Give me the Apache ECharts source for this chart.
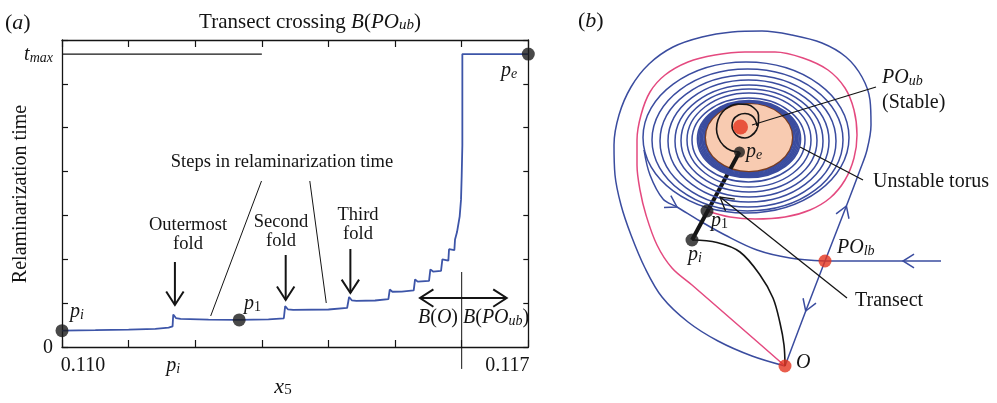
<!DOCTYPE html>
<html><head><meta charset="utf-8">
<script src="https://cdn.jsdelivr.net/npm/echarts@6/dist/echarts.min.js"></script>
<style>html,body{margin:0;padding:0;background:#fff}#c{width:997px;height:403px}</style>
</head><body><div id="c"></div><script>
// ================= Panel (a) data =================
const xTicks = [0.110, 0.111, 0.112, 0.113, 0.114, 0.115, 0.116, 0.117];
const yTicks = [0, 1, 2, 3, 4, 5, 6, 7];
const xLabelValues = [0.110, 0.11167, 0.117];
const xLabelTexts = ['0.110', 'p_i', '0.117'];
const tMax = 6.68;
const yLabelValues = [0, tMax];
const yLabelTexts = ['0', 't_max'];

const x5 = [
  0.11000, 0.11050, 0.11100, 0.11140, 0.11160, 0.11166,
  0.11167, 0.11171, 0.11178, 0.11220, 0.11265, 0.11310, 0.11333,
  0.11335, 0.11339, 0.11347, 0.11400, 0.11428,
  0.11431, 0.11435, 0.11442, 0.11470, 0.11490,
  0.11492, 0.11496, 0.11510, 0.11528,
  0.11530, 0.11534, 0.11551,
  0.11553, 0.11557, 0.11569,
  0.11571, 0.11574, 0.11580,
  0.11581, 0.11584, 0.11589,
  0.11590, 0.11593, 0.11597, 0.11599, 0.11600, 0.11601, 0.11601, 0.11700
];
const relamTime = [
  0.373, 0.383, 0.397, 0.415, 0.440, 0.470,
  0.740, 0.660, 0.640, 0.625, 0.618, 0.628, 0.655,
  0.930, 0.860, 0.845, 0.855, 0.890,
  1.140, 1.065, 1.050, 1.060, 1.090,
  1.310, 1.260, 1.262, 1.290,
  1.540, 1.490, 1.510,
  1.770, 1.720, 1.735,
  2.000, 1.955, 1.970,
  2.230, 2.190, 2.210,
  2.450, 2.620, 2.980, 3.360, 3.900, 4.600, 6.680, 6.680
];
const markedX = [0.11000, 0.11266, 0.11700];
const markedT = [0.373, 0.618, 6.68];

const tMaxLineX = [0.110, 0.113];
const foldArrowX = [0.111695, 0.113358, 0.114329];
const foldArrowFrom = [1.938, 2.098, 2.234];
const foldArrowTo = [0.958, 1.072, 1.231];
const basinArrowT = 1.117;
const basinArrowEnds = [0.115374, 0.116675];
const basinBoundaryX = 0.116;
const basinBoundaryT = [1.710, -0.50];
const stepLeaderX = [[0.112995, 0.112232], [0.113720, 0.113967]];
const stepLeaderT = [[3.785, 0.707], [3.785, 1.003]];

// ================= Panel (b) schematic data (diagram units) =================
const torus = [749, 137.5, 44, 34.5];
const bandRings = [[749,137.6,45,35.4],[749,137.9,46.3,36],[749,138.2,47.6,36.6],[749,138.5,48.9,37.2],[749,138.8,50.2,37.8],[749,139,51.5,38.5]];
const rings = [[748.5,140,56.5,42],[749,140,62,47],[749,140.5,68,51.5],[749,141,74,56],[748.5,141,80.5,61],[748,141,88,66],[747.5,140,95.5,71],[746,137.5,103,75.5]];
const outerLoop = [[785,366],[805,313],[825,261],[846,207],[860,170],[867,150],[871,125],[870,100],[862,77],[846,57],[822,43],[792,35],[762,31],[732,32],[702,37],[673,47],[649,64],[631,87],[619,115],[614,145],[615,175],[621,205],[631,235],[645,268],[662,297],[688,322],[718,341],[752,356],[785,366]];
const pinkOrbit = [[707,211],[730,217],[755,219],[785,217],[810,210],[830,198],[845,180],[854,158],[857,135],[854,110],[845,88],[828,70],[803,58],[775,52],[745,52],[715,55],[688,62],[665,75],[650,92],[641,115],[637,140],[637,165],[640,190],[646,215],[657,245],[672,268],[692,285],[738,325],[785,366]];
const inflowLeft = [[644,150],[650,175],[663,199],[677,207],[700,221],[725,235],[757,250],[790,258],[825,261]];
const inflowRight = [[941,261],[825,261]];
const piToO = [[692,240],[717,242.5],[740,252],[760,275],[773,298],[780,323],[784,345],[785,366]];
const spiral = [[739.5,152],[731,150.5],[723.5,145.5],[718.5,138],[716.5,129],[718,120],[722.5,112],[729.5,106.5],[738,104],[747,104.5],[754.5,108.5],[758.5,115],[758.5,122.5],[756.5,130],[751.5,135.5],[745,138],[738.5,136.5],[734,132],[732,126],[733.5,119.5],[738.5,115],[745,113.5],[751.5,115.5],[755.5,120.5],[757,126]];
const transect = [[692,240],[739.5,152]];
const blackPoints = [[739.5,152],[707,211],[692,240]];
const redPoints = [[740.5,127],[825,261],[785,366]];
const leaderLines = [[[752,125],[876,87]], [[800,147],[863,180]], [[847,298],[720,197]]];
const flowArrowsB = [[677,207,663,199],[903,261,915,261],[846.4,206,840,223],[805.7,311,812,294]];
const leaderArrowsB = [[720,197,847,298]];

// ================= helpers =================
const F = 'Liberation Serif';
const INK = '#141414';
const BLUE_A = '#3d55a8';
const BLUE_B = '#3a4c9f';
const PINK = '#e4497f';
const RED = '#e4341f';

function rich(size, key) {
  const s = Math.round(size * 0.7);
  const base = {fontFamily: F, fontSize: size, lineHeight: size + 2, verticalAlign: 'bottom'};
  base[key] = INK;
  const it = Object.assign({}, base, {fontStyle: 'italic'});
  const sub = {fontFamily: F, fontSize: s, fontStyle: 'italic', lineHeight: Math.round(size * 0.4), verticalAlign: 'bottom'};
  sub[key] = INK;
  const subn = Object.assign({}, sub, {fontStyle: 'normal'});
  const l = Object.assign({}, base, {padding: [0, 0, 0, 42]});
  const r = Object.assign({}, base, {padding: [0, 42, 0, 0]});
  return {n: base, it: it, sub: sub, subn: subn, l: l, r: r};
}
function mathText(s) {
  const k = s.indexOf('_');
  if (k < 0) return '{n|' + s + '}';
  const sb = s.slice(k + 1);
  return '{it|' + s.slice(0, k) + '}{' + (/^\d+$/.test(sb) ? 'subn' : 'sub') + '|' + sb + '}';
}
function txt(text, x, y, size, align, rot) {
  return {
    type: 'text', x: x, y: y, rotation: rot || 0, silent: true, z: 100,
    style: {text: text, rich: rich(size, 'fill'), align: align || 'center', verticalAlign: 'middle',
            textAlign: align || 'center', textVerticalAlign: 'middle'}
  };
}
function arrowRender(len, halfDeg, color, width) {
  return function (params, api) {
    const t = api.coord([api.value(0), api.value(1)]);
    const b = api.coord([api.value(2), api.value(3)]);
    let dx = b[0] - t[0], dy = b[1] - t[1];
    const L = Math.hypot(dx, dy) || 1; dx /= L; dy /= L;
    const a = halfDeg * Math.PI / 180, c = Math.cos(a), s = Math.sin(a);
    const p1 = [t[0] + len * (dx * c - dy * s), t[1] + len * (dx * s + dy * c)];
    const p2 = [t[0] + len * (dx * c + dy * s), t[1] + len * (-dx * s + dy * c)];
    return {type: 'polyline', shape: {points: [p1, t, p2]}, style: {stroke: color, lineWidth: width, fill: null}};
  };
}
function ellipseRender(stroke, width, fill) {
  return function (params, api) {
    const c = api.coord([api.value(0), api.value(1)]);
    const s = api.size([api.value(2) * 2, api.value(3) * 2], [api.value(0), api.value(1)]);
    return {type: 'ellipse', shape: {cx: c[0], cy: c[1], rx: Math.abs(s[0]) / 2, ry: Math.abs(s[1]) / 2},
            style: {stroke: stroke, lineWidth: width, fill: fill || 'none'}};
  };
}
function lineA(data, color, width, extra) {
  return Object.assign({type: 'line', xAxisIndex: 0, yAxisIndex: 0, data: data, symbol: 'none', silent: true,
    animation: false, lineStyle: {color: color, width: width}, z: 4}, extra || {});
}
function lineB(data, color, width, extra) {
  return Object.assign({type: 'line', xAxisIndex: 2, yAxisIndex: 2, data: data, symbol: 'none', silent: true,
    animation: false, clip: false, smooth: 0.35, lineStyle: {color: color, width: width}, z: 2}, extra || {});
}

const axisLineStyle = {show: true, onZero: false, lineStyle: {color: INK, width: 1.3}};

// ================= series =================
const series = [];
// panel (a)
series.push(lineA(x5.map((x, i) => [x, relamTime[i]]), BLUE_A, 1.8, {z: 5, clip: false}));
series.push(lineA(tMaxLineX.map(x => [x, tMax]), INK, 1.2));
foldArrowX.forEach((x, i) => series.push(lineA([[x, foldArrowFrom[i]], [x, foldArrowTo[i]]], INK, 2)));
series.push(lineA(basinArrowEnds.map(x => [x, basinArrowT]), INK, 2));
series.push(lineA(basinBoundaryT.map(t => [basinBoundaryX, t]), INK, 1, {clip: false}));
stepLeaderX.forEach((xs, i) => series.push(lineA(xs.map((x, j) => [x, stepLeaderT[i][j]]), INK, 1)));
const arrowHeadsA = foldArrowX.map((x, i) => [x, foldArrowTo[i], x, foldArrowFrom[i]])
  .concat(basinArrowEnds.map(x => [x, basinArrowT, basinBoundaryX, basinArrowT]));
series.push({type: 'custom', xAxisIndex: 0, yAxisIndex: 0, data: arrowHeadsA, clip: false, silent: true, z: 6,
  renderItem: arrowRender(16, 33, INK, 2)});
series.push({type: 'scatter', xAxisIndex: 0, yAxisIndex: 0, data: markedX.map((x, i) => [x, markedT[i]]),
  symbolSize: 13, itemStyle: {color: '#1c1c1c'}, clip: false, silent: true, z: 8});

// panel (b)
series.push({type: 'custom', xAxisIndex: 2, yAxisIndex: 2, data: [torus], clip: false, silent: true, z: 1,
  renderItem: ellipseRender('#7a3d1f', 2, '#f8cbb1')});
series.push(lineB(outerLoop, BLUE_B, 1.5));
series.push(lineB(pinkOrbit, PINK, 1.5));
series.push(lineB(inflowLeft, BLUE_B, 1.5));
series.push(lineB(inflowRight, BLUE_B, 1.5, {smooth: false}));
series.push(lineB(piToO, INK, 1.6));
series.push(lineB(transect, INK, 4, {smooth: false, z: 3}));
series.push({type: 'custom', xAxisIndex: 2, yAxisIndex: 2, data: bandRings, clip: false, silent: true, z: 4,
  renderItem: ellipseRender(BLUE_B, 1.7)});
series.push({type: 'custom', xAxisIndex: 2, yAxisIndex: 2, data: rings, clip: false, silent: true, z: 4,
  renderItem: ellipseRender(BLUE_B, 1.5)});
series.push(lineB(spiral, INK, 1.6, {z: 5, smooth: 0.5}));
leaderLines.forEach(seg => series.push(lineB(seg, INK, 1.3, {smooth: false, z: 6})));
series.push({type: 'custom', xAxisIndex: 2, yAxisIndex: 2, data: flowArrowsB, clip: false, silent: true, z: 6,
  renderItem: arrowRender(13, 32, BLUE_B, 1.5)});
series.push({type: 'custom', xAxisIndex: 2, yAxisIndex: 2, data: leaderArrowsB, clip: false, silent: true, z: 6,
  renderItem: arrowRender(15, 30, INK, 1.3)});
series.push({type: 'scatter', xAxisIndex: 2, yAxisIndex: 2, data: blackPoints, clip: false, silent: true, z: 8,
  symbolSize: (v, p) => p.dataIndex === 0 ? 11 : 13, itemStyle: {color: '#1c1c1c'}});
series.push({type: 'scatter', xAxisIndex: 2, yAxisIndex: 2, data: redPoints, clip: false, silent: true, z: 8,
  symbolSize: (v, p) => p.dataIndex === 0 ? 15 : 13, itemStyle: {color: RED}});

// ================= option =================
const option = {
  animation: false,
  backgroundColor: '#ffffff',
  grid: [
    {left: 62, top: 40, width: 466.3, height: 307, containLabel: false, outerBoundsMode: 'none'},
    {left: 560, top: 0, width: 437, height: 403, containLabel: false, outerBoundsMode: 'none'}
  ],
  xAxis: [
    {gridIndex: 0, type: 'value', position: 'bottom', min: 0.110, max: 0.117, interval: 0.001,
      axisLine: axisLineStyle, splitLine: {show: false},
      axisTick: {show: true, inside: true, length: 7, customValues: xTicks, lineStyle: {color: INK, width: 1.2}},
      axisLabel: {show: true, customValues: xLabelValues, margin: 7, rich: rich(20, 'color'),
        formatter: function (v) {
          const i = xLabelValues.findIndex(u => Math.abs(u - v) < 1e-7);
          if (i < 0) return '';
          const s = xLabelTexts[i];
          if (s.indexOf('_') >= 0) return mathText(s);
          return (i === 0 ? '{l|' : (i === xLabelValues.length - 1 ? '{r|' : '{n|')) + s + '}';
        }}},
    {gridIndex: 0, type: 'value', position: 'top', min: 0.110, max: 0.117, interval: 0.001,
      axisLine: axisLineStyle, splitLine: {show: false}, axisLabel: {show: false},
      axisTick: {show: true, inside: true, length: 7, customValues: xTicks, lineStyle: {color: INK, width: 1.2}}},
    {gridIndex: 1, type: 'value', min: 560, max: 997, show: false}
  ],
  yAxis: [
    {gridIndex: 0, type: 'value', position: 'left', min: 0, max: 7, interval: 1,
      axisLine: axisLineStyle, splitLine: {show: false},
      axisTick: {show: true, inside: true, length: 6, customValues: yTicks, lineStyle: {color: INK, width: 1.2}},
      axisLabel: {show: true, customValues: yLabelValues, margin: 9, rich: rich(20, 'color'),
        formatter: function (v) {
          const i = yLabelValues.findIndex(u => Math.abs(u - v) < 1e-7);
          return i < 0 ? '' : mathText(yLabelTexts[i]);
        }}},
    {gridIndex: 0, type: 'value', position: 'right', min: 0, max: 7, interval: 1,
      axisLine: axisLineStyle, splitLine: {show: false}, axisLabel: {show: false},
      axisTick: {show: true, inside: true, length: 5, customValues: yTicks, lineStyle: {color: INK, width: 1.2}}},
    {gridIndex: 1, type: 'value', min: 0, max: 403, inverse: true, show: false}
  ],
  graphic: [
    // panel (a)
    txt('{n|(}{it|a}{n|)}', 5, 22, 22, 'left'),
    txt('{n|Transect crossing }{it|B}{n|(}{it|PO}{sub|ub}{n|)}', 310, 21, 21),
    txt('{n|Relaminarization time}', 20, 194, 20, 'center', Math.PI / 2),
    txt('{it|x}{subn|5}', 283, 386, 22),
    txt('{n|Steps in relaminarization time}', 282, 161, 18.5),
    txt('{n|Outermost}', 188, 224, 18.5),
    txt('{n|fold}', 188, 243, 18.5),
    txt('{n|Second}', 281, 221, 18.5),
    txt('{n|fold}', 281, 240, 18.5),
    txt('{n|Third}', 358, 214, 18.5),
    txt('{n|fold}', 358, 233, 18.5),
    txt('{it|B}{n|(}{it|O}{n|)}', 418, 317, 20, 'left'),
    txt('{it|B}{n|(}{it|PO}{sub|ub}{n|)}', 463, 317, 20, 'left'),
    txt('{it|p}{sub|i}', 70, 311, 20, 'left'),
    txt('{it|p}{subn|1}', 244, 303, 20, 'left'),
    txt('{it|p}{sub|e}', 501, 70, 20, 'left'),
    // panel (b)
    txt('{n|(}{it|b}{n|)}', 578, 20, 22, 'left'),
    txt('{it|PO}{sub|ub}', 882, 77, 20, 'left'),
    txt('{n|(Stable)}', 882, 102, 20, 'left'),
    txt('{n|Unstable torus}', 873, 181, 20, 'left'),
    txt('{it|PO}{sub|lb}', 837, 247, 20, 'left'),
    txt('{it|O}', 796, 362, 20, 'left'),
    txt('{n|Transect}', 855, 300, 20, 'left'),
    txt('{it|p}{sub|e}', 746, 151, 20, 'left'),
    txt('{it|p}{subn|1}', 711, 220, 20, 'left'),
    txt('{it|p}{sub|i}', 688, 254, 20, 'left')
  ],
  series: series
};
const chart = echarts.init(document.getElementById('c'));
chart.setOption(option);
</script></body></html>
